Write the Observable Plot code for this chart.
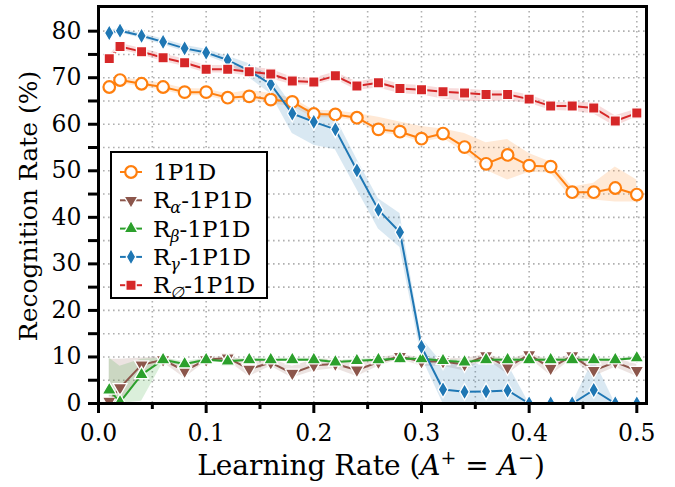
<!DOCTYPE html>
<html><head><meta charset="utf-8">
<script src="https://cdn.jsdelivr.net/npm/d3@7"></script>
<script src="https://cdn.jsdelivr.net/npm/@observablehq/plot@0.6"></script>
<style>body{margin:0;background:#fff} #chart{width:675px;height:487px}</style>
</head><body><div id="chart"></div>
<script>
// ---- data ----
const lr = [0.01,0.02,0.04,0.06,0.08,0.10,0.12,0.14,0.16,0.18,0.20,0.22,0.24,0.26,0.28,0.30,0.32,0.34,0.36,0.38,0.40,0.42,0.44,0.46,0.48,0.50];

const p1d   = [68.0,69.5,68.7,68.0,66.9,66.9,65.7,66.0,65.3,64.8,62.2,62.1,61.4,58.9,58.4,56.9,58.0,55.1,51.5,53.4,51.1,50.9,45.4,45.4,46.3,44.9];
const p1dLo = [67.3,68.8,68.0,67.3,66.2,66.1,65.0,65.2,64.4,63.8,61.4,61.4,60.7,58.2,57.6,56.2,57.0,54.0,50.1,48.0,49.7,49.5,44.0,43.7,43.3,43.3];
const p1dHi = [68.7,70.1,69.4,68.8,67.7,67.6,66.5,67.3,66.6,65.6,63.0,62.9,62.3,61.5,60.5,59.5,59.0,58.0,56.0,56.7,53.7,51.9,46.5,47.3,50.8,48.0];

const ra   = [0.5,3.4,8.3,9.4,7.0,9.4,9.8,7.4,8.8,6.5,8.2,8.5,7.2,8.9,10.1,9.0,9.0,8.4,10.3,7.8,10.5,7.6,10.3,7.1,8.9,7.1];
const raLo = [0,0,6.0,8.8,5.5,9.0,9.2,5.8,8.0,5.5,7.0,7.5,5.8,8.0,9.5,8.0,8.0,7.0,9.6,6.3,9.8,6.0,9.6,5.8,7.8,5.8];
const raHi = [9.5,9.5,9.8,10.0,8.5,9.8,10.2,9.0,9.6,8.0,9.4,9.6,8.6,9.8,10.6,9.8,9.8,9.6,10.6,9.3,10.8,9.2,10.6,8.6,9.8,8.4];

const rb   = [2.9,0.3,6.2,9.4,8.5,9.4,9.1,9.4,9.4,9.4,9.4,8.9,9.2,9.4,9.6,9.6,9.2,8.9,9.4,9.4,9.4,9.4,9.4,9.4,9.4,9.8];
const rbLo = [0,0,0.5,8.8,8.0,9.1,8.8,9.1,9.1,9.1,9.1,8.5,8.9,9.1,9.3,9.3,8.9,8.5,9.1,9.1,9.1,9.1,9.1,9.1,9.1,9.5];
const rbHi = [9.8,8.0,9.5,9.8,9.0,9.7,9.4,9.7,9.7,9.7,9.7,9.3,9.5,9.7,9.9,9.9,9.5,9.3,9.7,9.7,9.7,9.7,9.7,9.7,9.7,10.1];

const rg   = [79.6,80.1,79.0,77.7,76.3,75.4,73.8,71.5,68.6,62.3,60.5,58.9,50.1,41.6,36.8,12.2,3.0,2.5,2.6,2.8,0,0,0,2.9,0,0];
const rgLo = [79.0,79.6,78.5,77.1,75.6,74.7,73.0,70.0,66.5,58.0,55.5,54.5,46.0,37.5,33.5,10.0,0,0,0,0,0,0,0,0,0,0];
const rgHi = [80.2,80.6,79.5,78.3,77.0,76.1,74.6,73.0,70.5,64.0,63.0,61.5,52.5,44.0,40.8,14.0,8.5,8.5,8.5,8.5,0,0,0,9.5,0,0];

const r0   = [74.1,76.7,75.6,74.3,73.2,71.8,71.8,71.3,70.8,69.3,69.1,70.4,68.2,68.9,67.7,67.4,67.0,66.7,66.4,66.4,65.4,63.9,63.9,63.5,60.7,62.4];
const r0Lo = [73.4,76.0,74.9,73.5,72.4,71.0,71.0,70.3,69.8,68.5,68.3,69.6,67.3,67.8,66.6,66.3,65.4,64.9,64.9,65.0,64.5,63.0,62.8,62.2,59.5,61.6];
const r0Hi = [74.8,77.4,76.3,75.1,74.0,72.6,72.6,72.3,71.8,70.1,69.9,71.2,69.1,69.9,68.6,68.3,67.7,67.6,67.2,67.2,66.3,64.7,64.7,64.6,61.8,63.2];

const yTicks  = [0,5,10,15,20,25,30,35,40,45,50,55,60,65,70,75,80];
const xMajor  = [0.0,0.1,0.2,0.3,0.4,0.5];
const xMinor  = [0.05,0.15,0.25,0.35,0.45];
const xGrid   = [0.05,0.1,0.15,0.2,0.25,0.3,0.35,0.4,0.45,0.5];

// ---- styling ----
const FONT = "'DejaVu Serif', serif";
const triDown = {
  draw(context, size) {
    const y = -Math.sqrt(size / (Math.sqrt(3) * 3));
    context.moveTo(0, -y * 2);
    context.lineTo(-Math.sqrt(3) * y, y);
    context.lineTo(Math.sqrt(3) * y, y);
    context.closePath();
  }
};
const series = [
  {name:"1P1D", sub:null, y:p1d, lo:p1dLo, hi:p1dHi, color:"#ff7f0e", symbol:d3.symbolCircle, r:5.8, hollow:true},
  {name:"-1P1D", sub:"α", y:ra, lo:raLo, hi:raHi, color:"#8c564b", symbol:triDown, r:5.2},
  {name:"-1P1D", sub:"β", y:rb, lo:rbLo, hi:rbHi, color:"#2ca02c", symbol:d3.symbolTriangle, r:5.2},
  {name:"-1P1D", sub:"γ", y:rg, lo:rgLo, hi:rgHi, color:"#1f77b4", symbol:d3.symbolDiamond, r:5.0},
  {name:"-1P1D", sub:"∅", y:r0, lo:r0Lo, hi:r0Hi, color:"#d62728", symbol:d3.symbolSquare, r:5.8},
];
const tables = series.map(s => lr.map((x, i) => ({x, y: s.y[i], lo: s.lo[i], hi: s.hi[i]})));

const marks = [
  Plot.gridY(yTicks, {stroke:"#b0b0b0", strokeOpacity:1, strokeWidth:1.6, strokeDasharray:"1.6,3.4"}),
  Plot.gridX(xGrid, {stroke:"#b0b0b0", strokeOpacity:1, strokeWidth:1.6, strokeDasharray:"1.6,3.4"}),
];
series.forEach((s, k) => {
  marks.push(Plot.areaY(tables[k], {x:"x", y1:"lo", y2:"hi", fill:s.color, fillOpacity:0.17, clip:true}));
});
series.forEach((s, k) => {
  marks.push(Plot.line(tables[k], {x:"x", y:"y", stroke:s.color, strokeWidth:2, clip:true}));
  marks.push(Plot.dot(tables[k], {x:"x", y:"y", symbol:s.symbol, r:s.r,
    fill: s.hollow ? "white" : s.color, stroke: s.hollow ? s.color : "white",
    strokeWidth: s.hollow ? 2.2 : 1.3, clip:true}));
});
marks.push(
  Plot.axisY(yTicks, {tickSize:10, tickPadding:7, strokeWidth:3, fontSize:23.5, label:null,
    tickFormat: d => d % 10 === 0 ? String(d) : ""}),
  Plot.axisX(xMajor, {tickSize:10, tickPadding:11, strokeWidth:3, fontSize:23.5, label:null,
    tickFormat: d => d.toFixed(1)}),
  Plot.axisX(xMinor, {tickSize:6, strokeWidth:3, label:null, tickFormat: () => ""}),
  Plot.frame({stroke:"black", strokeWidth:3})
);

const plot = Plot.plot({
  width:675, height:487,
  marginLeft:98, marginRight:29, marginTop:6, marginBottom:84,
  x:{domain:[0, 0.509]},
  y:{domain:[0, 85.3]},
  style:{fontFamily:FONT, fontSize:"23px", color:"black", background:"white"},
  marks
});
document.getElementById("chart").appendChild(plot);

// ---- axis titles and legend ----
const svg = d3.select(plot);
svg.selectAll("text").style("font-family", FONT);

const xl = svg.append("text").attr("x", 371).attr("y", 475).attr("text-anchor","middle")
  .style("font-family", FONT).style("font-size", "28px").attr("fill","black");
xl.append("tspan").text("Learning Rate (");
xl.append("tspan").style("font-style","italic").text("A");
xl.append("tspan").style("font-size", "19px").attr("dy", -11).text("+");
xl.append("tspan").attr("dy", 11).text(" = ");
xl.append("tspan").style("font-style","italic").text("A");
xl.append("tspan").style("font-size", "19px").attr("dy", -11).text("−");
xl.append("tspan").attr("dy", 11).text(")");

svg.append("text").attr("transform","translate(37,206) rotate(-90)").attr("text-anchor","middle")
  .style("font-family", FONT).style("font-size", "25px").attr("fill","black")
  .text("Recognition Rate (%)");

const lg = svg.append("g");
lg.append("rect").attr("x",111).attr("y",152).attr("width",156).attr("height",146)
  .attr("fill","white").attr("stroke","black").attr("stroke-width",2);
series.forEach((s, k) => {
  const cy = 172 + k * 28.3;
  lg.append("line").attr("x1",120).attr("x2",142).attr("y1",cy).attr("y2",cy)
    .attr("stroke", s.color).attr("stroke-width",2);
  lg.append("path").attr("transform",`translate(131,${cy})`)
    .attr("d", d3.symbol(s.symbol, Math.PI * s.r * s.r)())
    .attr("fill", s.hollow ? "white" : s.color).attr("stroke", s.hollow ? s.color : "white")
    .attr("stroke-width", s.hollow ? 2.2 : 1.3);
  const t = lg.append("text").attr("x",153).attr("y", cy + 8).attr("text-anchor","start")
    .style("font-family", FONT).style("font-size", "23px").attr("fill","black");
  if (s.sub) {
    t.append("tspan").text("R");
    t.append("tspan").style("font-size","16px").style("font-style","italic").attr("dy",5).text(s.sub);
    t.append("tspan").attr("dy",-5).text(s.name);
  } else {
    t.text(s.name);
  }
});
</script></body></html>
